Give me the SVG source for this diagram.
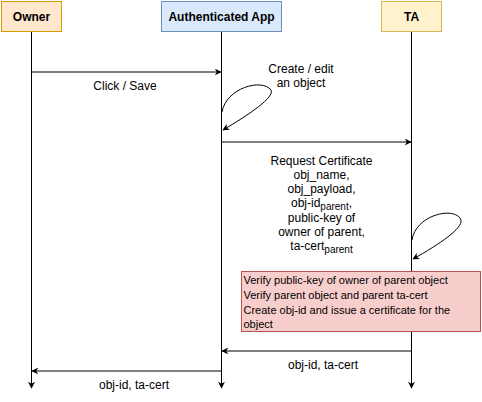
<svg xmlns="http://www.w3.org/2000/svg" width="482" height="402" viewBox="0 0 482 402">
<style>
text{font-family:"Liberation Sans",Arial,sans-serif;font-size:12px;fill:#000}
.t{font-weight:bold;text-anchor:middle}
.c{text-anchor:middle}
.ln{stroke:#000;stroke-width:1;fill:none}
.s{font-size:11px}
.sub{font-size:10px}
</style>
<defs>
<marker id="a" viewBox="0 0 10 10" refX="9" refY="5" markerWidth="7" markerHeight="7" orient="auto" markerUnits="userSpaceOnUse">
<path d="M0,0 L10,5 L0,10 L3,5 Z" fill="#000"/>
</marker>
</defs>
<g id="owner">
<rect x="1.5" y="1.5" width="60" height="30" fill="#ffe6cc" stroke="#d79b00"/>
<text class="t" x="31.5" y="20.5">Owner</text>
</g>
<g id="app">
<rect x="161.5" y="1.5" width="120" height="30" fill="#dae8fc" stroke="#6c8ebf"/>
<text class="t" x="221.5" y="20.5">Authenticated App</text>
</g>
<g id="ta">
<rect x="381.5" y="1.5" width="60" height="30" fill="#fff2cc" stroke="#d6b656"/>
<text class="t" x="411.5" y="20.5">TA</text>
</g>
<g id="connectors">
<path class="ln" d="M31.5 32 V388" marker-end="url(#a)"/>
<path class="ln" d="M221.5 32 V388" marker-end="url(#a)"/>
<path class="ln" d="M411.5 32 V388" marker-end="url(#a)"/>
<path class="ln" d="M31.5 72 H221" marker-end="url(#a)"/>
<path class="ln" d="M222 112 C226 88 262 78 271 90 C275 97 250 114 223 130" marker-end="url(#a)"/>
<path class="ln" d="M221.5 142 H411" marker-end="url(#a)"/>
<path class="ln" d="M412 240 C416 214 456 206 461 220 C463 228 440 244 413 259" marker-end="url(#a)"/>
<path class="ln" d="M411.5 351 H222" marker-end="url(#a)"/>
<path class="ln" d="M221.5 371 H32" marker-end="url(#a)"/>
</g>
<g id="labels">
<text class="c" x="125" y="90">Click / Save</text>
<text class="c" x="301" y="73">Create / edit</text>
<text class="c" x="301" y="87">an object</text>
<text class="c" x="321.5" y="165">Request Certificate</text>
<text class="c" x="321.5" y="179">obj_name,</text>
<text class="c" x="321.5" y="193">obj_payload,</text>
<text class="c" x="321.5" y="207">obj-id<tspan class="sub" dy="2.5">parent</tspan><tspan dy="-2.5">,</tspan></text>
<text class="c" x="321.5" y="222">public-key of</text>
<text class="c" x="321.5" y="236">owner of parent,</text>
<text class="c" x="321.5" y="250">ta-cert<tspan class="sub" dy="2.5">parent</tspan></text>
<text class="c" x="323" y="369">obj-id, ta-cert</text>
<text class="c" x="134" y="389">obj-id, ta-cert</text>
</g>
<g id="verify">
<rect x="241.5" y="271.5" width="239" height="60" fill="#f8cecc" stroke="#b85450"/>
<text class="s" x="243.5" y="284">Verify public-key of owner of parent object</text>
<text class="s" x="243.5" y="299">Verify parent object and parent ta-cert</text>
<text class="s" x="243.5" y="314">Create obj-id and issue a certificate for the</text>
<text class="s" x="243.5" y="328">object</text>
</g>
</svg>
